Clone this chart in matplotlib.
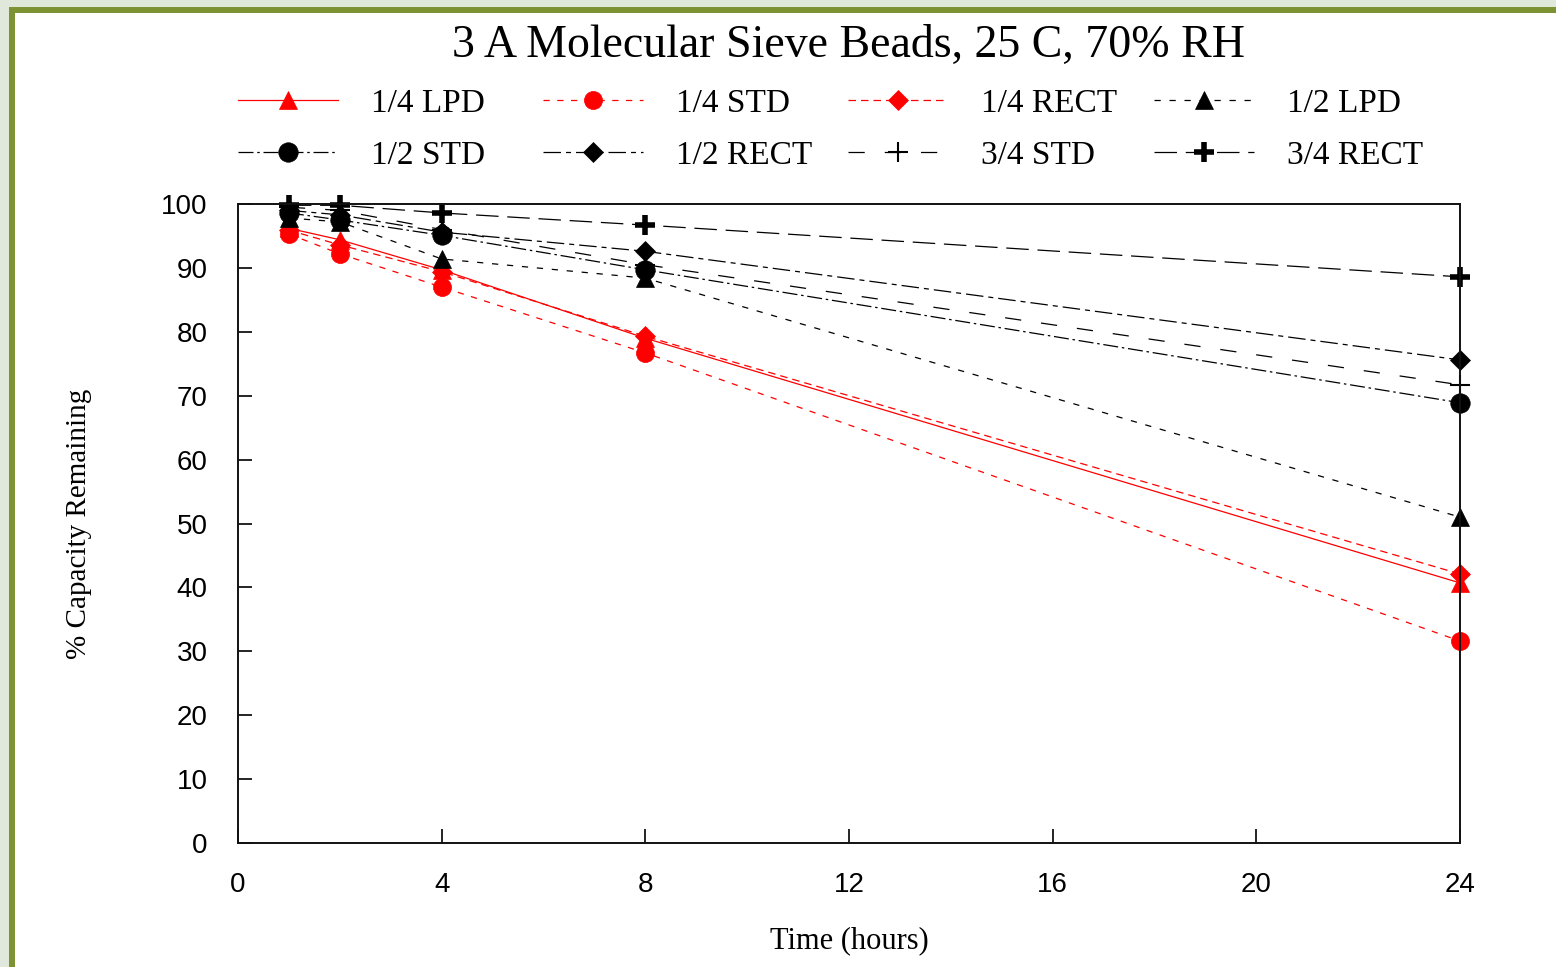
import matplotlib
matplotlib.use("Agg")
import matplotlib.pyplot as plt
from matplotlib.patches import Rectangle

# hours of exposure
TIME = [1, 2, 4, 8, 24]

# % capacity remaining
Q_LPD = [96.2, 94.4, 89.7, 79.0, 40.7]
Q_STD = [95.3, 92.2, 87.0, 76.7, 31.6]
Q_RECT = [95.9, 93.6, 89.4, 79.3, 42.1]
H_LPD = [97.8, 97.2, 91.4, 88.4, 51.0]
H_STD = [98.6, 97.5, 95.1, 89.7, 68.9]
H_RECT = [99.0, 98.3, 95.6, 92.6, 75.6]
T_STD = [99.5, 99.0, 96.0, 90.5, 71.7]
T_RECT = [99.8, 99.8, 98.6, 96.7, 88.6]

LABELS = ["1/4 LPD", "1/4 STD", "1/4 RECT", "1/2 LPD",
          "1/2 STD", "1/2 RECT", "3/4 STD", "3/4 RECT"]
SERIES = [Q_LPD, Q_STD, Q_RECT, H_LPD, H_STD, H_RECT, T_STD, T_RECT]

RED = "#ff0000"
STYLES = [
    dict(color=RED, ls="-", marker="^", ms=13),
    dict(color=RED, ls=(0, (5, 6)), marker="o", ms=13),
    dict(color=RED, ls=(0, (6, 4)), marker="D", ms=10),
    dict(color="black", ls=(0, (5, 7)), marker="^", ms=13),
    dict(color="black", ls=(0, (12, 3, 2, 3)), marker="o", ms=14),
    dict(color="black", ls=(0, (14, 4, 4, 4)), marker="D", ms=10),
    dict(color="black", ls=(0, (13, 16)), marker="+", ms=14, mew=1.5),
    dict(color="black", ls=(0, (18, 7)), marker="+", ms=15, mew=4),
]

SERIF = "Liberation Serif"
SANS = "Liberation Sans"
W, H = 1556, 967

fig = plt.figure(figsize=(W / 100, H / 100), dpi=100, facecolor="#dfe8da")
# olive slide frame + white panel
fig.patches.append(Rectangle((9 / W, 0), 1, (H - 7) / H, transform=fig.transFigure,
                             facecolor="#7d9232", edgecolor="none", zorder=-2))
fig.patches.append(Rectangle((15 / W, 0), 1, (H - 13) / H, transform=fig.transFigure,
                             facecolor="white", edgecolor="none", zorder=-1))

ax = fig.add_axes([238 / W, (H - 843) / H, (1460 - 238) / W, (843 - 204) / H])
ax.set_facecolor("white")

handles = []
for vals, lab, st in zip(SERIES, LABELS, STYLES):
    st = dict(st)
    mew = st.pop("mew", 0.5)
    (h,) = ax.plot(TIME, vals, lw=0.9, label=lab, mec=st["color"], mfc=st["color"],
                   mew=mew, clip_on=False, **st)
    handles.append(h)

ax.set_xlim(0, 24)
ax.set_ylim(0, 100)
ax.set_xticks(range(0, 25, 4))
ax.set_yticks(range(0, 101, 10))
ax.tick_params(direction="in", length=10, width=1.2, top=False, right=False,
               labelsize=20, colors="black")
ax.tick_params(axis="x", pad=21)
ax.tick_params(axis="y", pad=22)
for lab in ax.get_xticklabels() + ax.get_yticklabels():
    lab.set_fontfamily(SANS)
for sp in ax.spines.values():
    sp.set_linewidth(1.4)
    sp.set_color("#111111")

ax.set_xlabel("Time (hours)", family=SERIF, fontsize=22, labelpad=20)
ax.set_ylabel("% Capacity Remaining", family=SERIF, fontsize=21, labelpad=50)

fig.text(849 / W, 1 - 46 / H, "3 A Molecular Sieve Beads, 25 C, 70% RH",
         family=SERIF, fontsize=33, ha="center", va="center")

# legend: 4 fixed columns, 2 rows
col_x = [238, 543, 848, 1154]
for c, x in enumerate(col_x):
    hs = [handles[c], handles[c + 4]]
    leg = fig.legend(hs, [h.get_label() for h in hs], loc="upper left",
                     bbox_to_anchor=(x / W, 1 - 88 / H), frameon=False,
                     borderpad=0, borderaxespad=0, handlelength=3.0,
                     handletextpad=0.98, labelspacing=0.65, numpoints=1,
                     prop={"family": SERIF, "size": 24})

fig.savefig("out.png", dpi=100, facecolor=fig.get_facecolor())
